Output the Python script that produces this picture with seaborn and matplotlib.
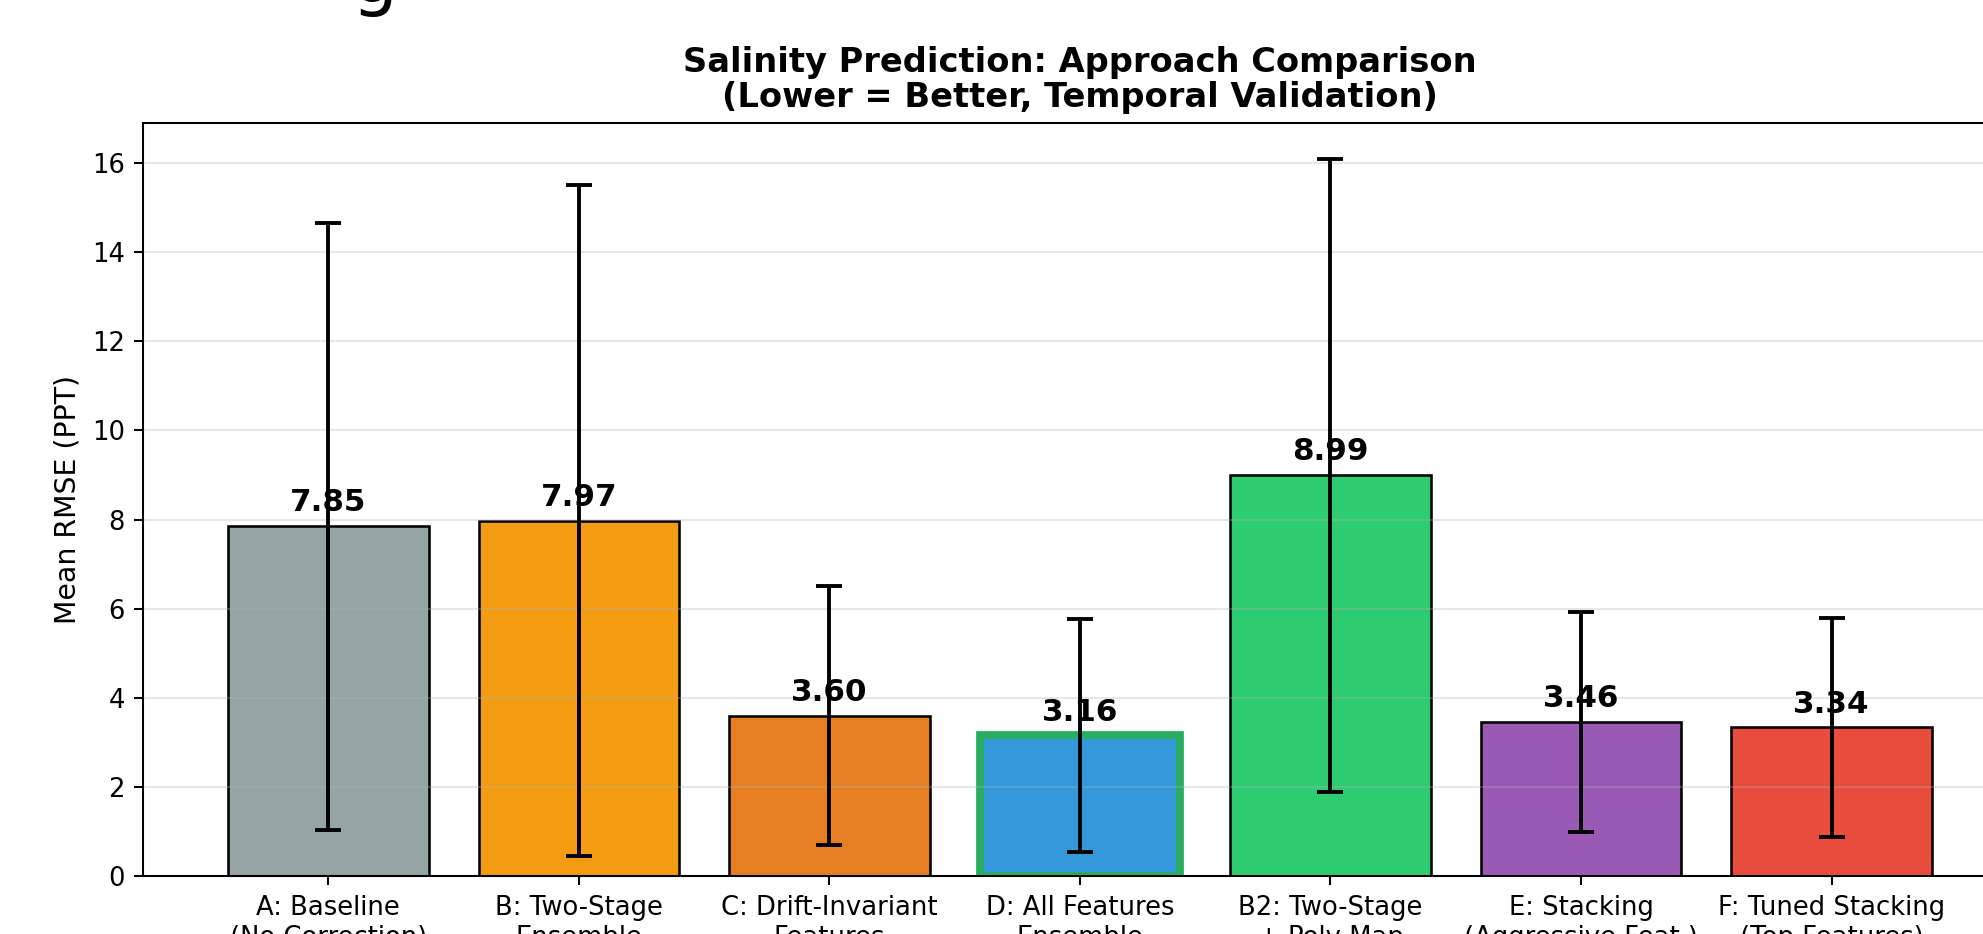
import matplotlib
matplotlib.use("Agg")
import matplotlib.pyplot as plt
import seaborn as sns
import pandas as pd

# Approach results (mean RMSE and std across temporal folds)
approaches = ['A: Baseline\n(No Correction)', 'B: Two-Stage\nEnsemble',
              'C: Drift-Invariant\nFeatures', 'D: All Features\nEnsemble',
              'B2: Two-Stage\n+ Poly Map', 'E: Stacking\n(Aggressive Feat.)',
              'F: Tuned Stacking\n(Top Features)']
mean_rmse = [7.85, 7.97, 3.60, 3.16, 8.99, 3.46, 3.34]
std_rmse = [6.80, 7.52, 2.90, 2.62, 7.10, 2.46, 2.46]
colors = ['#95a5a6', '#f39c12', '#e67e22', '#3498db', '#2ecc71', '#9b59b6', '#e74c3c']

df = pd.DataFrame({'Approach': approaches, 'RMSE': mean_rmse, 'Std': std_rmse})

DPI = 186
fig = plt.figure(figsize=(1983 / DPI, 934 / DPI), dpi=DPI)
ax = fig.add_axes([0.0721, 0.0616, 0.945, 0.807])

sns.barplot(data=df, x='Approach', y='RMSE', hue='Approach', palette=colors,
            legend=False, edgecolor='black', linewidth=1, saturation=1, width=0.8, ax=ax)

# highlight the best approach (D)
best = 3
ax.patches[best].set_edgecolor('#27ae60')
ax.patches[best].set_linewidth(3)

ax.errorbar(range(len(mean_rmse)), mean_rmse, yerr=std_rmse, fmt='none',
            ecolor='black', elinewidth=1.5, capsize=5, capthick=1.5)

for i, v in enumerate(mean_rmse):
    ax.text(i, v + 0.2, f'{v:.2f}', ha='center', va='bottom',
            fontsize=12, fontweight='bold')

n = len(approaches)
ax.set_xlim(-0.74, n - 1 + 0.74)
ax.set_ylim(0, (max(m + s for m, s in zip(mean_rmse, std_rmse))) * 1.05)
ax.set_xlabel('')
ax.set_ylabel('Mean RMSE (PPT)', fontsize=11)
ax.set_title('Salinity Prediction: Approach Comparison\n(Lower = Better, Temporal Validation)',
             fontsize=13, fontweight='bold', linespacing=1.1)
ax.tick_params(axis='both', labelsize=10)
ax.yaxis.grid(True, alpha=0.3)
ax.xaxis.grid(False)
ax.set_axisbelow('line')

# fragment of the figure-level title that sits above this panel
fig.text(375 / 1983, 0.998, 'g', fontsize=28, ha='center', va='baseline')

fig.savefig('out.png', dpi=DPI)
